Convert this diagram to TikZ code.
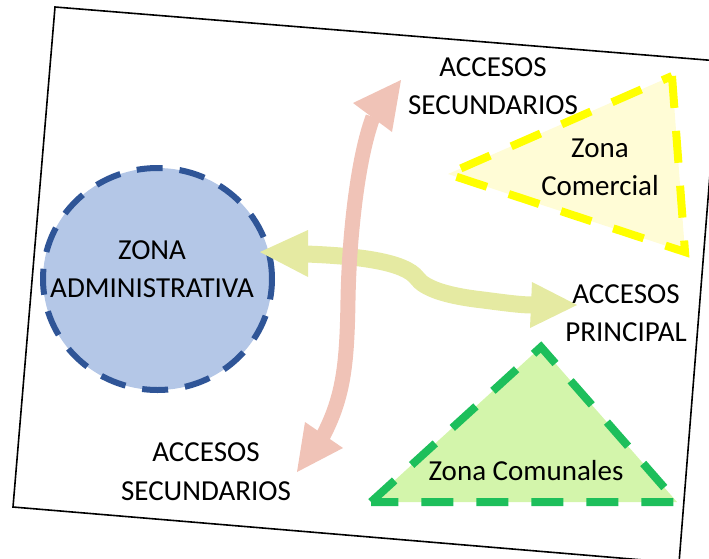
\documentclass[tikz,border=0pt]{standalone}
\usepackage{fontspec}
\setmainfont{Carlito}
\usetikzlibrary{shapes.geometric}
\definecolor{circfill}{HTML}{B4C7E7}
\definecolor{circline}{HTML}{2F5597}
\definecolor{yelfill}{HTML}{FFFCD6}
\definecolor{yelline}{HTML}{FFFF00}
\definecolor{grnfill}{HTML}{D3F5AB}
\definecolor{grnline}{HTML}{1DBF5B}
\definecolor{pinkc}{HTML}{F0C3B7}
\definecolor{olivec}{HTML}{E5EAA2}
\tikzset{
  lbl/.style={align=center, inner sep=0pt, font=\fontsize{29}{38.5}\selectfont},
  frameline/.style={draw=black, line width=1.6pt, line join=miter},
  zonecirc/.style={ellipse, draw=circline, fill=circfill, line width=6pt,
     dash pattern=on 26pt off 17pt, minimum width=229pt, minimum height=222pt, inner sep=0pt},
  yeltri/.style={draw=yelline, fill=yelfill, line width=8pt, dash pattern=on 32pt off 23pt, line join=miter},
  grntri/.style={draw=grnline, fill=grnfill, line width=8pt, dash pattern=on 32pt off 23pt, line join=miter},
  pinkshaft/.style={draw=pinkc, line width=15pt},
  oliveshaft/.style={draw=olivec, line width=17pt},
}
\begin{document}
\begin{tikzpicture}[x=1pt,y=-1pt]
\useasboundingbox (0,0) rectangle (709,558);
% frame
\begin{scope}
\clip (0,0) rectangle (709,558);
\coordinate (f1) at (55,7);
\coordinate (f2) at (719,61);
\coordinate (f3) at (679,563);
\coordinate (f4) at (13,507);
\draw[frameline] (f1) -- (f2) -- (f3) -- (f4) -- cycle;
\end{scope}
% zones
\node[zonecirc] (adm) at (157.5,279) {};
\coordinate (y1) at (448,174);
\coordinate (y2) at (672,76);
\coordinate (y3) at (685,252);
\draw[yeltri] (y2) -- (y3) -- (y1) -- cycle;
\coordinate (g1) at (371,502);
\coordinate (g2) at (541,347);
\coordinate (g3) at (677,502);
\draw[grntri] (g1) -- (g2) -- (g3) -- cycle;
% olive double arrow
\coordinate (oL) at (260,252);
\coordinate (oLa) at (308,230);
\coordinate (oLb) at (308,277);
\coordinate (oLm) at (306,254);
\coordinate (oR) at (577,305);
\coordinate (oRa) at (532,282);
\coordinate (oRb) at (530,328);
\coordinate (oRm) at (533,305);
\draw[oliveshaft] (oLm) .. controls (360,256) and (405,262) .. (417,278)
   .. controls (424,288) and (445,295) .. (475,299)
   .. controls (500,302) and (518,305) .. (oRm);
\fill[olivec] (oL) -- (oLa) -- (oLb) -- cycle;
\fill[olivec] (oR) -- (oRa) -- (oRb) -- cycle;
% pink double arrow
\coordinate (pT) at (401,80);
\coordinate (pTa) at (353,103);
\coordinate (pTb) at (392,132);
\coordinate (pTm) at (373,117);
\coordinate (pB) at (297,472);
\coordinate (pBa) at (305,422);
\coordinate (pBb) at (343,448);
\coordinate (pBm) at (323,436);
\draw[pinkshaft] (pBm) .. controls (344,396) and (347,362) .. (348,300)
   .. controls (349,240) and (357,160) .. (pTm);
\fill[pinkc] (pT) -- (pTa) -- (pTb) -- cycle;
\fill[pinkc] (pB) -- (pBa) -- (pBb) -- cycle;
% labels
\node[lbl] (tadm) at (152,269) {ZONA\\ADMINISTRATIVA};
\node[lbl] (tsec1) at (493,86.4) {ACCESOS\\SECUNDARIOS};
\node[lbl] (tpri) at (626,313) {ACCESOS\\PRINCIPAL};
\node[lbl] (tsec2) at (206,471.5) {ACCESOS\\SECUNDARIOS};
\node[lbl] (tcom) at (600,167.5) {Zona\\Comercial};
\node[lbl] (tcmn) at (526,471) {Zona Comunales};
\end{tikzpicture}
\end{document}
